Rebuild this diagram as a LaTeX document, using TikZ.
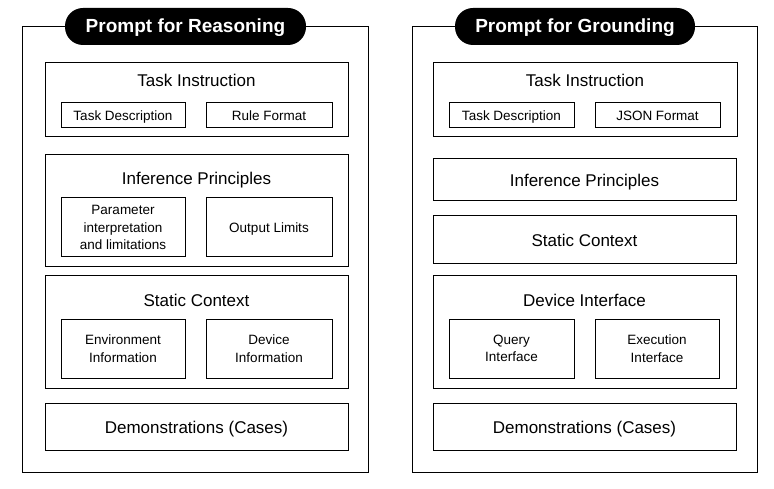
\documentclass[tikz,border=0pt]{standalone}
\usepackage{fontspec}
\setmainfont{Liberation Sans}
\usepackage{tikz}
\usetikzlibrary{positioning}

\begin{document}
\begin{tikzpicture} [
      x = 1pt, y = -1pt,
      line width = 1pt,
      outer/.style = { draw, rectangle, minimum width = 346pt, minimum height = 445pt },
      pill/.style = { fill = black, text = white, rounded corners = 18pt, inner sep = 0,
                      minimum height = 37pt, text height = 14pt, text depth = 1pt,
                      font = \fontsize{19}{22}\selectfont\bfseries },
      group/.style = { draw, rectangle, minimum width = 303pt, inner sep = 0 },
      heading/.style = { font = \fontsize{17}{20}\selectfont },
      headline/.style = { text height = 14pt, text depth = 0.6pt },
      oneline/.style = { text height = 11.5pt, text depth = 0.5pt },
      item/.style = { draw, rectangle, inner sep = 0, minimum height = 25pt,
                      align = center, font = \fontsize{13.5}{17.5}\selectfont }
      ]
      \useasboundingbox (0,0) rectangle (774,489);

      % reasoning prompt
      \node [outer] (outerL) at (195,249.5) {};
      \node [pill, minimum width = 241pt] (pillL) at (185.5,26.5) {Prompt for Reasoning};

      \node [group, minimum height = 74pt] (taskL) at (196.5,100) {};
      \node [heading] (taskLt) at (196.5,80.5) {Task Instruction};
      \node [item, oneline, minimum width = 124pt] (descL) at (123,115.5) {Task Description};
      \node [item, oneline, minimum width = 126pt] (ruleL) at (269,115.5) {Rule Format};

      \node [group, minimum height = 112pt] (inferL) at (196.5,211) {};
      \node [heading] (inferLt) at (196.5,180) {Inference Principles};
      \node [item, minimum width = 124pt, minimum height = 59pt] (paramL) at (123,227.5) {Parameter\\interpretation\\and limitations};
      \node [item, oneline, minimum width = 126pt, minimum height = 59pt] (limitL) at (269,227.5) {Output Limits};

      \node [group, minimum height = 112pt] (staticL) at (196.5,332) {};
      \node [heading] (staticLt) at (196.5,300.5) {Static Context};
      \node [item, minimum width = 124pt, minimum height = 59pt] (envL) at (123,348.5) {Environment\\Information};
      \node [item, minimum width = 126pt, minimum height = 59pt] (devL) at (269,348.5) {Device\\Information};

      \node [group, heading, headline, minimum height = 47pt] (demoL) at (196.5,426.5) {Demonstrations (Cases)};

      % grounding prompt
      \node [outer, minimum width = 345pt] (outerR) at (584.5,249.5) {};
      \node [pill, minimum width = 240pt] (pillR) at (575,26.5) {Prompt for Grounding};

      \node [group, minimum height = 74pt, minimum width = 304pt] (taskR) at (585,100) {};
      \node [heading] (taskRt) at (585,80.5) {Task Instruction};
      \node [item, oneline, minimum width = 125pt] (descR) at (511.5,115.5) {Task Description};
      \node [item, oneline, minimum width = 125pt] (jsonR) at (657.5,115.5) {JSON Format};

      \node [group, heading, headline, minimum height = 42pt] (inferR) at (584.5,180) {Inference Principles};
      \node [group, heading, headline, minimum height = 48pt] (staticR) at (584.5,240) {Static Context};

      \node [group, minimum height = 112pt] (devR) at (584.5,332) {};
      \node [heading] (devRt) at (584.5,300.5) {Device Interface};
      \node [item, minimum width = 125pt, minimum height = 59pt] (queryR) at (511.5,348.5) {Query\\Interface};
      \node [item, minimum width = 124pt, minimum height = 59pt] (execR) at (657,348.5) {Execution\\Interface};

      \node [group, heading, headline, minimum height = 47pt] (demoR) at (584.5,426.5) {Demonstrations (Cases)};
\end{tikzpicture}
\end{document}
